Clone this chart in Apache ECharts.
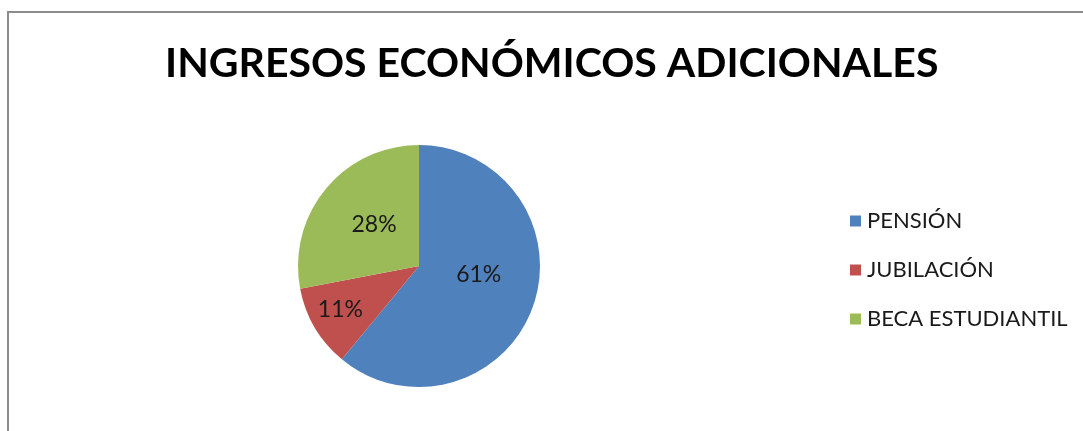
<!DOCTYPE html>
<html>

<head>
    <meta charset="UTF-8">
    <script src="https://cdn.jsdelivr.net/npm/echarts@6.0.0/dist/echarts.min.js"></script>
    <style>
        html, body { margin: 0; padding: 0; background: #fff; }
    </style>
</head>

<body>
    <div id="main" style="width: 1083px; height: 431px;"></div>
    <script>
        // datos del gráfico
        var categories = ['PENSIÓN', 'JUBILACIÓN', 'BECA ESTUDIANTIL'];
        var values = [61, 11, 28];
        var colors = ['#4f81bd', '#c0504d', '#9bbb59'];
        // ajuste fino de la etiqueta de cada porción
        var labelOffsets = [[0, -13], [-24, 11], [4, -1]];

        var myChart = echarts.init(document.getElementById('main'));

        var pieData = [];
        for (var i = 0; i < categories.length; i++) {
            pieData.push({
                name: categories[i],
                value: values[i],
                itemStyle: { color: colors[i] },
                label: { offset: labelOffsets[i] }
            });
        }

        var option = {
            animation: false,
            backgroundColor: '#fff',
            graphic: [
                {
                    type: 'rect',
                    shape: { x: 8, y: 12, width: 1090, height: 440 },
                    style: { fill: 'none', stroke: '#8c8c8c', lineWidth: 2 },
                    silent: true
                }
            ],
            title: {
                text: 'INGRESOS ECONÓMICOS ADICIONALES',
                left: 160,
                top: 38,
                textStyle: {
                    fontFamily: 'Lato',
                    fontWeight: 'bold',
                    fontSize: 41,
                    color: '#000'
                }
            },
            legend: {
                orient: 'vertical',
                left: 845,
                top: 205,
                itemWidth: 11,
                itemHeight: 11,
                itemGap: 27,
                icon: 'rect',
                textStyle: {
                    fontFamily: 'Lato',
                    fontSize: 22,
                    color: '#1a1a1a',
                    padding: [0, 0, 0, 1]
                },
                data: categories
            },
            series: [
                {
                    type: 'pie',
                    center: [419, 266],
                    radius: 121,
                    startAngle: 90,
                    clockwise: true,
                    data: pieData,
                    label: {
                        position: 'inside',
                        formatter: '{d}%',
                        fontFamily: 'Lato',
                        fontSize: 23,
                        color: '#1a1a1a'
                    },
                    labelLine: { show: false },
                    itemStyle: { borderWidth: 0 },
                    emphasis: { disabled: true }
                }
            ]
        };

        option && myChart.setOption(option);
    </script>
</body>

</html>
